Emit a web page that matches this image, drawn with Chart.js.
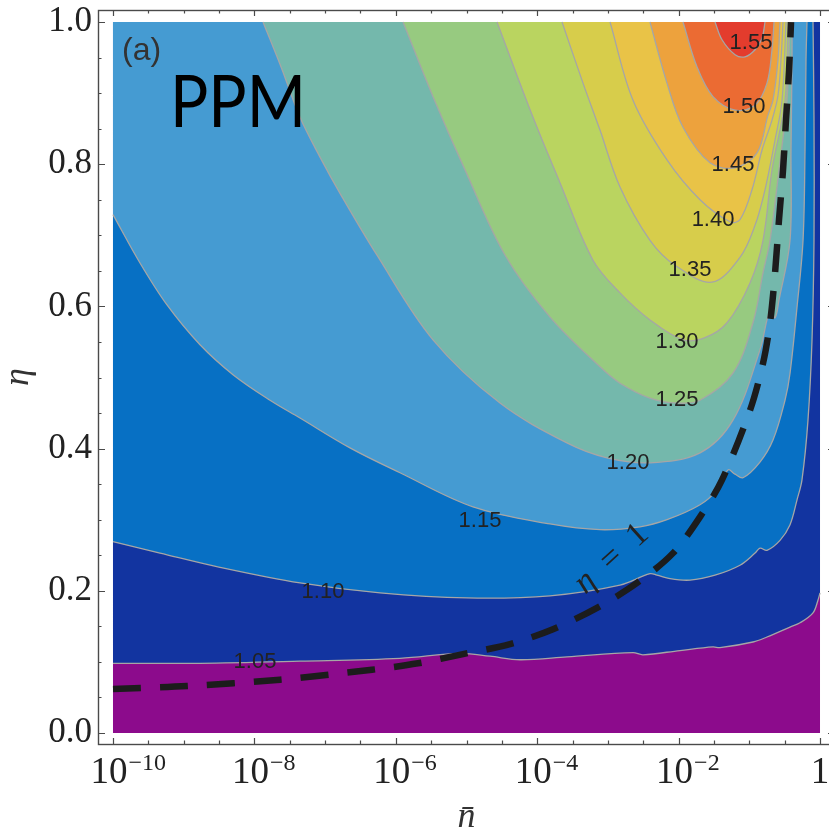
<!DOCTYPE html>
<html>
<head>
<meta charset="utf-8">
<script src="https://cdn.jsdelivr.net/npm/chart.js@4.4.1/dist/chart.umd.min.js"></script>
<style>
html,body{margin:0;padding:0;overflow:hidden;background:#fff;width:829px;height:833px}
canvas{display:block}
</style>
</head>
<body>
<canvas id="c" width="850" height="833" style="width:850px;height:833px"></canvas>
<script>
// ---------- axis ranges & ticks (x values are log10 of n̄) ----------
const xRangeExp = [-10, 0];
const yRange = [0, 1];
const xLabelExps = [-10, -8, -6, -4, -2, 0];
const xMinorExps = [-10,-9.5,-9,-8.5,-8,-7.5,-7,-6.5,-6,-5.5,-5,-4.5,-4,-3.5,-3,-2.5,-2,-1.5,-1,-0.5,0];
const yTickValues = [0,0.05,0.1,0.15,0.2,0.25,0.3,0.35,0.4,0.45,0.5,0.55,0.6,0.65,0.7,0.75,0.8,0.85,0.9,0.95,1];
const yLabelValues = [0,0.2,0.4,0.6,0.8,1];

// ---------- contour curves: [log10 n̄, η] ----------
const c105 = [[-10,0.098],[-8.769,0.098],[-7.355,0.101],[-5.941,0.105],[-5.092,0.112],[-4.668,0.108],[-4.243,0.103],[-3.579,0.107],[-2.645,0.113],[-2.504,0.110],[-1.98,0.116],[-1.513,0.121],[-1.415,0.120],[-0.948,0.128],[-0.75,0.135],[-0.424,0.149],[-0.283,0.155],[-0.099,0.169],[-0.028,0.187],[0,0.197]];
const c110 = [[-10,0.269],[-9.335,0.253],[-8.487,0.233],[-7.355,0.211],[-6.223,0.197],[-4.993,0.190],[-3.819,0.193],[-2.829,0.208],[-2.405,0.224],[-2.306,0.222],[-2.122,0.217],[-1.839,0.215],[-1.485,0.222],[-1.132,0.236],[-0.919,0.253],[-0.849,0.260],[-0.75,0.257],[-0.566,0.271],[-0.424,0.293],[-0.325,0.328],[-0.255,0.356],[-0.17,0.44],[-0.113,0.553],[-0.085,0.693],[-0.085,0.862],[-0.099,1]];
const c115 = [[-10,0.729],[-9.618,0.661],[-9.236,0.602],[-8.769,0.546],[-8.303,0.504],[-7.779,0.468],[-7.355,0.443],[-6.648,0.401],[-5.941,0.366],[-4.908,0.318],[-3.819,0.294],[-3.112,0.286],[-2.546,0.290],[-2.164,0.300],[-1.697,0.321],[-1.457,0.342],[-1.301,0.370],[-1.202,0.364],[-1.089,0.359],[-0.849,0.381],[-0.665,0.412],[-0.495,0.468],[-0.424,0.506],[-0.325,0.599],[-0.24,0.693],[-0.212,0.820],[-0.198,0.947],[-0.184,1]];
const c120 = [[-7.878,1],[-7.624,0.937],[-7.355,0.866],[-7.072,0.810],[-6.789,0.759],[-6.266,0.672],[-5.474,0.553],[-4.526,0.464],[-3.579,0.408],[-3.013,0.387],[-2.405,0.380],[-1.697,0.394],[-1.231,0.440],[-0.849,0.539],[-0.707,0.595],[-0.636,0.584],[-0.58,0.609],[-0.424,0.693],[-0.41,0.820],[-0.396,0.947],[-0.396,1]];
const c125 = [[-5.898,1],[-5.474,0.895],[-5.021,0.792],[-4.455,0.672],[-3.819,0.585],[-3.112,0.515],[-2.829,0.492],[-2.405,0.471],[-2.023,0.464],[-1.697,0.468],[-1.231,0.506],[-0.948,0.577],[-0.806,0.647],[-0.707,0.693],[-0.58,0.792],[-0.467,0.890],[-0.424,1]];
const c130 = [[-4.569,1],[-4.059,0.866],[-3.678,0.774],[-3.211,0.665],[-2.829,0.619],[-2.405,0.581],[-1.938,0.553],[-1.627,0.556],[-1.315,0.577],[-0.99,0.633],[-0.806,0.693],[-0.679,0.792],[-0.495,0.890],[-0.453,1]];
const c135 = [[-3.649,1],[-3.352,0.914],[-3.112,0.848],[-2.829,0.768],[-2.405,0.693],[-2.051,0.658],[-1.528,0.634],[-1.132,0.669],[-0.919,0.714],[-0.778,0.764],[-0.636,0.834],[-0.537,0.890],[-0.481,1]];
const c140 = [[-2.970,1],[-2.645,0.890],[-2.164,0.806],[-1.697,0.750],[-1.273,0.719],[-1.132,0.722],[-0.962,0.764],[-0.82,0.820],[-0.679,0.862],[-0.594,0.897],[-0.552,0.947],[-0.523,1]];
const c145 = [[-2.405,1],[-2.164,0.914],[-1.938,0.852],[-1.556,0.802],[-1.202,0.795],[-0.891,0.816],[-0.736,0.869],[-0.665,0.890],[-0.594,0.947],[-0.566,1]];
const c150 = [[-1.938,1],[-1.74,0.937],[-1.513,0.895],[-1.202,0.876],[-0.919,0.883],[-0.75,0.914],[-0.679,0.961],[-0.65,1]];
const c155 = [[-1.485,1],[-1.386,0.975],[-1.202,0.954],[-1.061,0.951],[-0.919,0.961],[-0.82,0.977],[-0.778,1]];

// dashed curve labelled "η = 1"
const etaOneCurve = [[-10,0.062],[-8.953,0.066],[-7.638,0.075],[-6.337,0.089],[-5.686,0.098],[-5.05,0.111],[-4.385,0.125],[-3.777,0.146],[-3.154,0.176],[-2.588,0.211],[-2.079,0.253],[-1.697,0.304],[-1.386,0.356],[-0.99,0.454],[-0.806,0.520],[-0.707,0.577],[-0.636,0.647],[-0.58,0.722],[-0.523,0.792],[-0.481,0.862],[-0.438,0.932],[-0.41,1]];
const etaOneLabelAt = [-2.956, 0.246];

// contour labels
const contourLevels = ['1.05','1.10','1.15','1.20','1.25','1.30','1.35','1.40','1.45','1.50','1.55'];
const labelExp = [-7.992,-7.03,-4.809,-2.716,-2.023,-2.023,-1.839,-1.513,-1.231,-1.075,-0.976];
const labelEta = [0.100,0.198,0.298,0.380,0.468,0.550,0.651,0.722,0.799,0.880,0.970];

// ---------- styles ----------
const baseColor = '#8c0b8c';
const levelColors = ['#1234a0','#0770c4','#459bd2','#74b8ac','#97ca80','#bad460','#d7cd4b','#e9c347','#eda23d','#eb6b33','#e33c2d'];
const curves = [c105,c110,c115,c120,c125,c130,c135,c140,c145,c150,c155];
const TENSION = 0.35;

const toPts = arr => arr.map(([e, y]) => ({x: Math.pow(10, e), y}));
// closes a contour along the plot boundary; end and corner points are doubled so the
// smoothed outline follows the contour line exactly and the closing edges stay straight
function regionPoints(curve) {
  const pts = curve.slice();
  const first = pts[0], last = pts[pts.length - 1];
  const extra = [];
  if (last[0] >= xRangeExp[1] - 1e-9 && last[1] < yRange[1]) extra.push([xRangeExp[1], yRange[1]]);
  if (first[0] <= xRangeExp[0] + 1e-9 && first[1] < yRange[1]) extra.push([xRangeExp[0], yRange[1]]);
  if (extra.length) {
    pts.push(last);
    extra.forEach(p => { pts.push(p); pts.push(p); });
  }
  return pts;
}

const datasets = [];
datasets.push({
  data: toPts([[xRangeExp[0], yRange[0]],[xRangeExp[1], yRange[0]],[xRangeExp[1], yRange[1]],[xRangeExp[0], yRange[1]]]),
  showLine: true, fill: 'shape', backgroundColor: baseColor, borderWidth: 0, pointRadius: 0, tension: 0, order: 1000
});
curves.forEach((c, i) => {
  datasets.push({
    data: toPts(regionPoints(c)), showLine: true, fill: 'shape', backgroundColor: levelColors[i],
    borderWidth: 0, pointRadius: 0, tension: TENSION, order: 900 - i
  });
});
curves.forEach((c) => {
  datasets.push({
    data: toPts(c), showLine: true, fill: false, borderColor: '#a6a6a6', borderWidth: 1.3,
    pointRadius: 0, tension: TENSION, order: 10
  });
});
datasets.push({
  data: toPts(etaOneCurve), showLine: true, fill: false, borderColor: '#1c1c1c', borderWidth: 6.5,
  borderDash: [28, 19], borderCapStyle: 'butt', pointRadius: 0, tension: 0.3, order: 1
});

const padDecades = 0.212;
const padEta = [0.01547, 0.01688];

const deco = {
  id: 'deco',
  afterDatasetsDraw(chart) {
    const {ctx, scales: {x, y}} = chart;
    ctx.save();
    ctx.fillStyle = '#222';
    ctx.font = '22px "Liberation Sans", Arial, sans-serif';
    ctx.textAlign = 'center';
    ctx.textBaseline = 'middle';
    contourLevels.forEach((t, i) => {
      ctx.fillText(t, x.getPixelForValue(Math.pow(10, labelExp[i])), y.getPixelForValue(labelEta[i]));
    });
    // η = 1 label
    const px = x.getPixelForValue(Math.pow(10, etaOneLabelAt[0]));
    const py = y.getPixelForValue(etaOneLabelAt[1]);
    ctx.translate(px, py);
    ctx.rotate(-42 * Math.PI / 180);
    ctx.textAlign = 'left';
    ctx.textBaseline = 'alphabetic';
    const f1 = 'italic 34px "Liberation Serif", serif', f2 = '34px "Liberation Serif", serif';
    const t2 = '\u2002=\u20021';
    ctx.font = f1; const w1 = ctx.measureText('η').width;
    ctx.font = f2; const w2 = ctx.measureText(t2).width;
    const sx = -(w1 + w2) / 2;
    ctx.font = f1; ctx.fillText('η', sx, 10);
    ctx.font = f2; ctx.fillText(t2, sx + w1, 10);
    ctx.restore();
  },
  afterDraw(chart) {
    const {ctx, chartArea: a, scales: {x, y}} = chart;
    ctx.save();
    ctx.strokeStyle = '#4a4a4a';
    ctx.lineWidth = 1.4;
    ctx.strokeRect(a.left + 0.5, a.top + 0.5, a.right - a.left, a.bottom - a.top);
    ctx.lineWidth = 1.2;
    ctx.beginPath();
    xMinorExps.forEach(e => {
      const px = Math.round(x.getPixelForValue(Math.pow(10, e))) + 0.5;
      const major = xLabelExps.includes(e);
      const len = major ? 6 : 3.5;
      ctx.moveTo(px, a.bottom); ctx.lineTo(px, a.bottom - len);
      ctx.moveTo(px, a.top); ctx.lineTo(px, a.top + len);
    });
    yTickValues.forEach(v => {
      const py = Math.round(y.getPixelForValue(v)) + 0.5;
      const major = yLabelValues.some(u => Math.abs(u - v) < 1e-9);
      const len = major ? 7 : 3.5;
      ctx.moveTo(a.left, py); ctx.lineTo(a.left + len, py);
      ctx.moveTo(a.right, py); ctx.lineTo(a.right - len, py);
    });
    ctx.stroke();
    // x tick labels with superscripts
    ctx.fillStyle = '#222';
    ctx.textBaseline = 'alphabetic';
    const baseFont = '37px "Liberation Serif", serif';
    const expFont = '24px "Liberation Serif", serif';
    xLabelExps.forEach(e => {
      const px = x.getPixelForValue(Math.pow(10, e));
      if (e === 0) {
        ctx.font = baseFont; ctx.textAlign = 'center';
        ctx.fillText('1', px, a.bottom + 39);
        return;
      }
      ctx.font = baseFont; ctx.textAlign = 'left';
      const wb = ctx.measureText('10').width;
      const sx = px - 4 - wb / 2;
      ctx.fillText('10', sx, a.bottom + 39);
      ctx.font = expFont;
      ctx.fillText('\u2212' + Math.abs(e), sx + wb + 1, a.bottom + 26);
    });
    // panel annotations
    ctx.textAlign = 'left';
    ctx.fillStyle = '#333';
    ctx.font = '32px "Liberation Sans", Arial, sans-serif';
    ctx.fillText('(a)', 122, 60);
    ctx.fillStyle = '#000';
    ctx.font = '72px Lato, "Noto Sans", sans-serif';
    const wp = ctx.measureText('PPM').width;
    ctx.translate(170, 127);
    ctx.scale(136 / wp, 1);
    ctx.fillText('PPM', 0, 0);
    ctx.restore();
  }
};

new Chart(document.getElementById('c'), {
  type: 'scatter',
  data: { datasets },
  options: {
    responsive: false,
    animation: false,
    events: [],
    layout: { padding: { left: 0, right: 15, top: 10, bottom: 0 } },
    plugins: { legend: { display: false }, tooltip: { enabled: false } },
    scales: {
      x: {
        type: 'logarithmic',
        min: Math.pow(10, xRangeExp[0] - padDecades),
        max: Math.pow(10, xRangeExp[1] + padDecades),
        grid: { display: false, drawTicks: false },
        border: { display: false },
        ticks: { display: false },
        title: { display: true, text: 'n\u0304', color: '#333',
          font: { family: '"Liberation Serif", serif', size: 36, style: 'italic', lineHeight: 0.5 },
          padding: { top: 0, bottom: 6 } },
        afterFit(s) { s.height = 89; s.paddingLeft = 0; s.paddingRight = 0; }
      },
      y: {
        type: 'linear',
        min: yRange[0] - padEta[0],
        max: yRange[1] + padEta[1],
        grid: { display: false, drawTicks: false },
        border: { display: false },
        afterBuildTicks(s) { s.ticks = yTickValues.map(v => ({ value: v })); },
        ticks: {
          autoSkip: false, padding: 6, color: '#222',
          font: { family: '"Liberation Serif", serif', size: 35 },
          callback: (v) => yLabelValues.some(u => Math.abs(u - v) < 1e-9) ? Number(v).toFixed(1) : ''
        },
        title: { display: true, text: 'η', color: '#333',
          font: { family: '"Liberation Serif", serif', size: 36, style: 'italic', lineHeight: 0.5 },
          padding: { top: 10, bottom: 0 } },
        afterFit(s) { s.width = 98; s.paddingTop = 0; s.paddingBottom = 0; }
      }
    }
  },
  plugins: [deco]
});
</script>
</body>
</html>
